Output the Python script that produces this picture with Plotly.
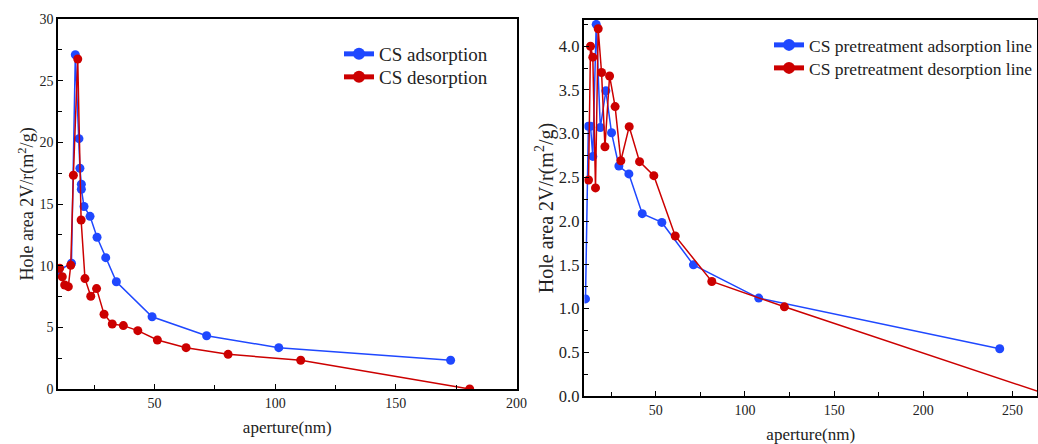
import plotly.graph_objects as go

# Left panel: CS
cs_ads_x = [10.2, 15.6, 17.2, 18.7, 19.1, 19.7, 19.7, 20.8, 23.3, 26.2, 29.8, 34.2, 49.0, 71.6, 101.5, 172.7]
cs_ads_y = [9.6, 10.2, 27.1, 20.3, 17.9, 16.6, 16.2, 14.8, 14.0, 12.3, 10.65, 8.7, 5.86, 4.32, 3.35, 2.33]
cs_des_x = [10.7, 11.8, 12.8, 14.3, 15.3, 16.4, 18.2, 19.6, 21.2, 23.6, 26.0, 29.1, 32.5, 37.1, 43.1, 51.2, 63.1, 80.5, 110.6, 180.6]
cs_des_y = [9.79, 9.1, 8.43, 8.3, 10.03, 17.33, 26.76, 13.7, 8.95, 7.52, 8.14, 6.06, 5.27, 5.14, 4.73, 3.97, 3.35, 2.81, 2.33, 0.0]

# Right panel: CS pretreatment
pt_ads_x = [10.6, 12.2, 13.4, 14.7, 16.6, 18.9, 22.0, 25.2, 29.3, 34.9, 42.4, 53.4, 71.1, 107.7, 242.8]
pt_ads_y = [1.11, 3.085, 3.085, 2.74, 4.25, 3.07, 3.49, 3.01, 2.63, 2.54, 2.085, 1.985, 1.50, 1.12, 0.54]
pt_des_x = [12.3, 13.4, 14.7, 16.2, 17.7, 19.6, 21.5, 24.1, 27.2, 30.4, 35.1, 40.9, 48.9, 60.9, 81.4, 122.1, 272.0]
pt_des_y = [2.47, 4.0, 3.875, 2.38, 4.20, 3.70, 2.85, 3.66, 3.31, 2.69, 3.08, 2.68, 2.52, 1.83, 1.31, 1.02, 0.0]

left_yticks = [0, 5, 10, 15, 20, 25, 30]
left_xticks = [50, 100, 150, 200]
right_yticks = [0.0, 0.5, 1.0, 1.5, 2.0, 2.5, 3.0, 3.5, 4.0]
right_xticks = [50, 100, 150, 200, 250]

BLUE = "#1f48ff"
RED = "#cc0000"
FONT = "Liberation Serif"
W, H = 1038, 444

fig = go.Figure()
fig.add_trace(go.Scatter(x=cs_ads_x, y=cs_ads_y, mode="lines+markers", name="CS adsorption",
                         line=dict(color=BLUE, width=1.5), marker=dict(color=BLUE, size=9),
                         xaxis="x", yaxis="y", legend="legend"))
fig.add_trace(go.Scatter(x=cs_des_x, y=cs_des_y, mode="lines+markers", name="CS desorption",
                         line=dict(color=RED, width=1.5), marker=dict(color=RED, size=9),
                         xaxis="x", yaxis="y", legend="legend2"))
fig.add_trace(go.Scatter(x=pt_ads_x, y=pt_ads_y, mode="lines+markers", name="CS pretreatment adsorption line",
                         line=dict(color=BLUE, width=1.5), marker=dict(color=BLUE, size=9),
                         xaxis="x2", yaxis="y2", legend="legend3"))
fig.add_trace(go.Scatter(x=pt_des_x, y=pt_des_y, mode="lines+markers", name="CS pretreatment desorption line",
                         line=dict(color=RED, width=1.5), marker=dict(color=RED, size=9),
                         xaxis="x2", yaxis="y2", legend="legend4"))

axis_common = dict(showline=True, linecolor="black", linewidth=1.5, mirror=True,
                   ticks="inside", ticklen=5, tickwidth=1.2, tickcolor="black",
                   showgrid=False, zeroline=False, automargin=False,
                   tickfont=dict(family=FONT, size=14, color="#222"))


def leg(px_x, px_y, size):
    return dict(x=px_x / W, y=1 - px_y / H, xanchor="left", yanchor="middle",
                bgcolor="rgba(0,0,0,0)", font=dict(family=FONT, size=size, color="#222"),
                itemsizing="constant")


fig.update_layout(
    width=W, height=H,
    margin=dict(l=0, r=0, t=0, b=0),
    paper_bgcolor="white", plot_bgcolor="white",
    font=dict(family=FONT, color="#222"),
    xaxis=dict(axis_common, domain=[58 / W, 517 / W], range=[10, 200], tickvals=left_xticks,
               minor=dict(ticks="inside", ticklen=4, dtick=25, tick0=0, tickcolor="black"),
               title=dict(text="aperture(nm)", font=dict(family=FONT, size=17), standoff=12),
               anchor="y"),
    yaxis=dict(axis_common, domain=[(H - 389) / H, (H - 19) / H], range=[0, 30], tickvals=left_yticks,
               minor=dict(ticks="inside", ticklen=4, dtick=2.5, tick0=0, tickcolor="black"),
               title=dict(text="Hole area 2V/r(m<sup>2</sup>/g)", font=dict(family=FONT, size=18), standoff=1),
               anchor="x"),
    xaxis2=dict(axis_common, domain=[585 / W, 1.0], range=[10, 263.7], tickvals=right_xticks,
                minor=dict(ticks="inside", ticklen=4, dtick=25, tick0=0, tickcolor="black"),
                title=dict(text="aperture(nm)", font=dict(family=FONT, size=17), standoff=16),
                anchor="y2"),
    yaxis2=dict(axis_common, domain=[(H - 396) / H, (H - 20) / H], range=[0, 4.3], tickvals=right_yticks,
                tickformat=".1f", tickfont=dict(family=FONT, size=16.5, color="#222"),
                minor=dict(ticks="inside", ticklen=4, dtick=0.25, tick0=0, tickcolor="black"),
                title=dict(text="Hole area 2V/r(m<sup>2</sup>/g)", font=dict(family=FONT, size=20), standoff=0),
                anchor="x2"),
    legend=leg(339, 54, 19),
    legend2=leg(339, 77, 19),
    legend3=leg(770, 45, 17.5),
    legend4=leg(770, 68, 17.5),
    showlegend=True,
)

fig.write_html("out.html", config={"displayModeBar": False},
               post_script="document.body.style.margin='0';document.body.style.overflow='hidden';")
